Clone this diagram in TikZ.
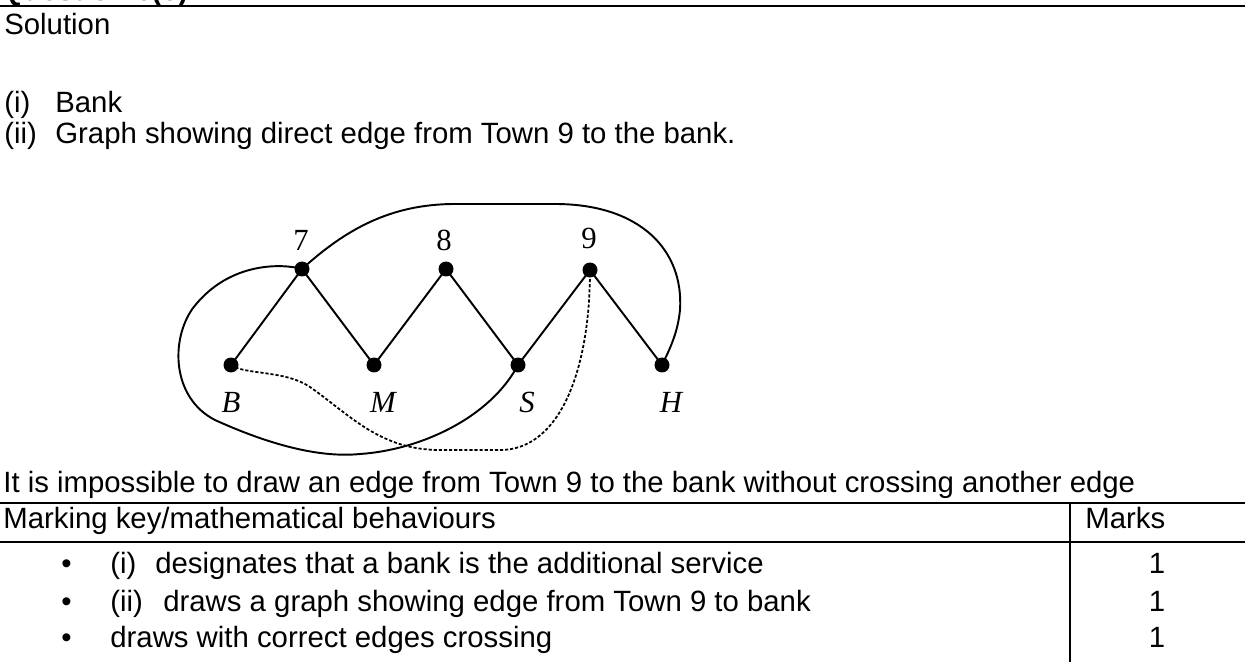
\documentclass[tikz,border=0pt]{standalone}
\usepackage{fontspec}
\setmainfont{Liberation Sans}
\newfontfamily\labelfont{Liberation Serif}
\usetikzlibrary{arrows.meta,positioning}

\begin{document}
\begin{tikzpicture}[x=0.02cm,y=-0.02cm, every node/.style={font=\fontsize{16.7}{20}\selectfont}, txt/.style={anchor=base west,inner sep=0pt}, town/.style={circle,fill=black,inner sep=0pt,minimum size=3mm}, lbl/.style={font=\labelfont\fontsize{17.5}{20}\selectfont,inner sep=0pt}, road/.style={line width=1.1pt}, newroad/.style={line width=1pt,dash pattern=on 1.8pt off 1.1pt}, rule/.style={line width=1.3pt}]
\useasboundingbox (0,0) rectangle (1245,662);
\begin{scope}
\clip (0,0) rectangle (1245,6);
\node[txt,font=\fontsize{16.7}{20}\selectfont\bfseries] (qhead) at (0,0.5) {Question 6(c)};
\end{scope}
\draw[line width=1.6pt] (0,6) -- (1245,6);
\node[txt] (sol) at (4,35) {Solution};
\node[txt] (pi) at (4,113) {(i)};
\node[txt] (bank) at (55,113) {Bank};
\node[txt] (pii) at (4,144) {(ii)};
\node[txt] (graph) at (55,144) {Graph showing direct edge from Town 9 to the bank.};
\node[town] (t7) at (302,269) {};
\node[town] (t8) at (446,269) {};
\node[town] (t9) at (590,270) {};
\node[town] (tB) at (231,365) {};
\node[town] (tM) at (374,365) {};
\node[town] (tS) at (518,365) {};
\node[town] (tH) at (662,365) {};
\node[lbl] (l7) at (301,240) {7};
\node[lbl] (l8) at (444,240) {8};
\node[lbl] (l9) at (589,238) {9};
\node[lbl] (lB) at (231,402) {\itshape B};
\node[lbl] (lM) at (383,402) {\itshape M};
\node[lbl] (lS) at (527,402) {\itshape S};
\node[lbl] (lH) at (671,402) {\itshape H};
\draw[road] (tB.center) -- (t7.center) -- (tM.center) -- (t8.center) -- (tS.center) -- (t9.center) -- (tH.center);
\draw[road] (t7.center) .. controls (345,230) and (390,204) .. (455,204) -- (555,204) .. controls (640,204) and (684,250) .. (680,310) .. controls (678,330) and (672,345) .. (tH.center);
\draw[road] (t7.center) .. controls (285,264) and (230,260) .. (193,308) .. controls (170,340) and (172,398) .. (215,420) .. controls (270,445) and (320,458) .. (360,454) .. controls (420,450) and (490,418) .. (tS.center);
\draw[newroad] (tB.center) .. controls (245,375) and (285,370) .. (310,387) .. controls (350,415) and (380,450) .. (440,450) -- (500,450) .. controls (560,450) and (590,370) .. (t9.center);
\node[txt] (impossible) at (3,492) {It is impossible to draw an edge from Town 9 to the bank without crossing another edge};
\draw[rule] (0,503) -- (1245,503);
\draw[rule] (0,542) -- (1245,542);
\draw[rule] (1070,503) -- (1070,662);
\node[txt] (keyhead) at (3,528) {Marking key/mathematical behaviours};
\node[txt] (markhead) at (1085,528) {Marks};
\node[txt] (b1) at (61,573) {\textbullet};
\node[txt] (b2) at (61,611) {\textbullet};
\node[txt] (b3) at (61,647) {\textbullet};
\node[txt] (r1a) at (110,573) {(i)};
\node[txt] (r1) at (155,573) {designates that a bank is the additional service};
\node[txt] (r2a) at (110,611) {(ii)};
\node[txt] (r2) at (163,611) {draws a graph showing edge from Town 9 to bank};
\node[txt] (r3) at (110,647) {draws with correct edges crossing};
\node[anchor=base,inner sep=0pt] (m1) at (1157,573) {1};
\node[anchor=base,inner sep=0pt] (m2) at (1157,611) {1};
\node[anchor=base,inner sep=0pt] (m3) at (1157,647) {1};
\end{tikzpicture}
\end{document}
